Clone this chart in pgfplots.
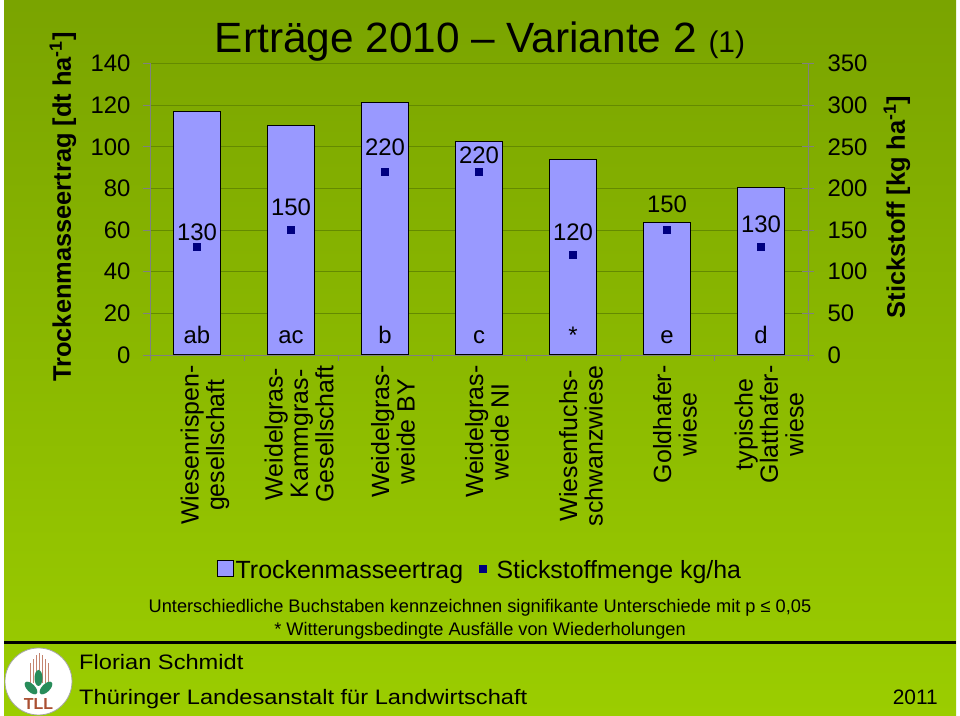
\documentclass[border=0pt]{standalone}
\usepackage{pgfplots}
\pgfplotsset{compat=1.18}
\usepackage{fontspec}
\setmainfont{Liberation Sans}
\newfontfamily\widefont[FakeStretch=1.13]{Liberation Sans}
\definecolor{bgtop}{RGB}{122,164,0}
\definecolor{bgbot}{RGB}{155,205,0}
\definecolor{barcol}{RGB}{153,153,255}
\definecolor{navy}{RGB}{0,0,128}
\definecolor{gridgreen}{RGB}{100,138,0}
\definecolor{spine}{RGB}{128,128,128}
\definecolor{tllbrown}{RGB}{170,80,50}
\definecolor{leafgreen}{RGB}{40,140,90}
\begin{document}
\begin{tikzpicture}[x=1bp,y=1bp]
\useasboundingbox (0,0) rectangle (960,716);
\fill[white] (0,0) rectangle (960,716);
\shade[top color=bgtop, bottom color=bgbot] (4,0) rectangle (956,715);

% left axis: bars
\begin{axis}[
  at={(150bp,361bp)}, anchor=south west,
  width=658bp, height=291.5bp, scale only axis,
  xmin=-0.5, xmax=6.5, ymin=0, ymax=140,
  axis x line*=bottom, axis y line*=left,
  axis line style={spine, line width=0.8bp, -},
  ytick={0,20,...,140},
  ymajorgrids, grid style={gridgreen, line width=0.8bp},
  tick align=outside, major tick length=7bp,
  tick style={spine, line width=0.8bp},
  /pgf/number format/assume math mode=true,
  yticklabel style={font=\fontsize{24}{24}\selectfont, xshift=-9bp},
  xtick={0,...,6},
  xticklabels={{Wiesenrispen-\\gesellschaft},{Weidelgras-\\Kammgras-\\Gesellschaft},{Weidelgras-\\weide BY},{Weidelgras-\\weide NI},{Wiesenfuchs-\\schwanzwiese},{Goldhafer-\\wiese},{typische\\Glatthafer-\\wiese}},
  xticklabel style={rotate=90, anchor=east, align=center, font=\fontsize{25}{25.5}\selectfont, yshift=-8bp},
  major x tick style={draw=none},
  extra x ticks={-0.5,0.5,...,6.5},
  extra x tick labels={},
  extra x tick style={major x tick style={draw=spine, line width=0.8bp}, major tick length=6bp},
  clip=false,
]
\addplot[ybar, bar width=47bp, fill=barcol, draw=black, line width=1bp]
  coordinates {(0,117) (1,110) (2,121.5) (3,102.5) (4,94) (5,63.8) (6,80.2)};
\addplot[draw=none, mark=none, nodes near coords, point meta=explicit symbolic,
  nodes near coords style={anchor=base, font=\fontsize{24}{24}\selectfont, text=black}]
  coordinates {(0,5.6)[ab] (1,5.6)[ac] (2,5.6)[b] (3,5.6)[c] (4,5.6)[*] (5,5.6)[e] (6,5.6)[d]};
\end{axis}

% right axis: nitrogen
\begin{axis}[
  at={(150bp,361bp)}, anchor=south west,
  width=658bp, height=291.5bp, scale only axis,
  xmin=-0.5, xmax=6.5, ymin=0, ymax=350,
  axis x line=none, axis y line*=right,
  axis line style={spine, line width=0.8bp, -},
  ytick={0,50,...,350},
  tick align=center, major tick length=12bp,
  tick style={spine, line width=0.8bp},
  /pgf/number format/assume math mode=true,
  yticklabel style={font=\fontsize{24}{24}\selectfont, xshift=10bp},
  clip=false,
  legend style={at={(0.5015,-0.737)}, anchor=center, draw=none, fill=none,
    font=\fontsize{25}{30}\selectfont, legend columns=2,
    /tikz/every even column/.append style={column sep=14bp}},
]
\addlegendimage{legend image code/.code={\draw[fill=barcol,draw=black,line width=0.8bp] (0bp,-7bp) rectangle (16bp,9bp);}}
\addlegendentry{Trockenmasseertrag}
\addplot[only marks, mark=square*, mark size=3.5bp, navy,
  legend image code/.code={\fill[navy] (4bp,-2.5bp) rectangle (11bp,4.5bp);}]
  coordinates {(0,130) (1,150) (2,220) (3,220) (4,120) (5,150) (6,130)};
\addlegendentry{\hspace{8bp}Stickstoffmenge kg/ha}
% data labels of the nitrogen values, placed where the reference shows them
\addplot[draw=none, mark=none, nodes near coords, point meta=explicit symbolic,
  nodes near coords style={anchor=center, font=\fontsize{24}{24}\selectfont, text=black}, forget plot]
  coordinates {(0,147.7)[130] (1,177.7)[150] (2,249.7)[220] (3,240.1)[220] (4,147.7)[120] (5,181.3)[150] (6,157.3)[130]};
\end{axis}

% title
\node[anchor=base, inner sep=0] at (480,716-52.7)
  {\fontsize{42.5}{42.5}\selectfont Erträge 2010 – Variante 2 {\fontsize{30}{30}\selectfont(1)}};

% axis titles
\node[rotate=90, font=\bfseries\fontsize{25.5}{26}\selectfont] at (63,716-207)
  {Trockenmasseertrag [dt ha\textsuperscript{-1}]};
\node[rotate=90, font=\bfseries\fontsize{25.5}{26}\selectfont] at (897,716-207)
  {Stickstoff [kg ha\textsuperscript{-1}]};

% footnotes
\node[anchor=base, inner sep=0, font=\fontsize{18.3}{20}\selectfont] at (480,716-612.5)
  {Unterschiedliche Buchstaben kennzeichnen signifikante Unterschiede mit p ≤ 0,05};
\node[anchor=base, inner sep=0, font=\fontsize{18.3}{20}\selectfont] at (480,716-635.5)
  {* Witterungsbedingte Ausfälle von Wiederholungen};

% footer
\fill[black] (4,716-644) rectangle (956,716-641);
\node[anchor=base west, inner sep=0, font=\widefont\fontsize{21}{22}\selectfont] at (79,716-669.3) {Florian Schmidt};
\node[anchor=base west, inner sep=0, font=\widefont\fontsize{21}{22}\selectfont] at (79,716-704.3) {Thüringer Landesanstalt für Landwirtschaft};
\node[anchor=base east, inner sep=0, font=\fontsize{21}{22}\selectfont] at (938,716-704.3) {2011};

% logo
\begin{scope}
\clip (4,0) rectangle (956,716);
\fill[white, draw=gray!70, line width=0.8bp] (38.5,716-681.5) circle (33.5);
\foreach \xx/\hh in {30/20,33/24,36/28,39/30,42/28,45/24,48/20}
  \draw[tllbrown!70, line width=1bp] (\xx,716-683) -- (\xx,716-683+\hh);
\fill[leafgreen] (38.5,716-678) ellipse (4 and 8);
\fill[leafgreen, rotate around={45:(31,716-688)}] (31,716-688) ellipse (4 and 8);
\fill[leafgreen, rotate around={-45:(46,716-688)}] (46,716-688) ellipse (4 and 8);
\node[font=\bfseries\fontsize{16}{16}\selectfont, text=tllbrown, inner sep=0] at (38.5,716-704) {TLL};
\end{scope}
\end{tikzpicture}
\end{document}
